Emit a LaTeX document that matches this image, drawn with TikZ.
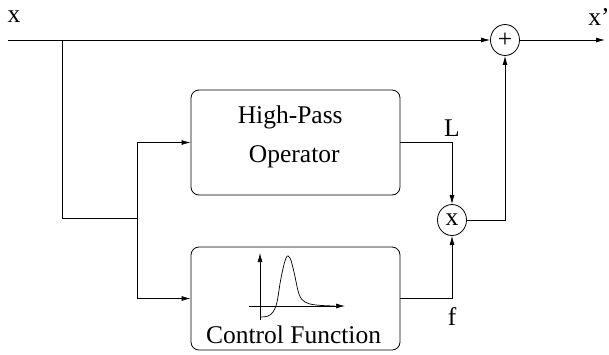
\documentclass[tikz,border=0pt]{standalone}
\usepackage{fontspec}
\setmainfont{Liberation Serif}
\usetikzlibrary{arrows.meta,shapes.geometric}
\begin{document}
\begin{tikzpicture}[x=1pt,y=-1pt,
  line width=0.8pt,
  every node/.style={font=\fontsize{25.5}{36}\selectfont, inner sep=0pt},
  blk/.style={draw, rounded corners=8pt, minimum width=209pt},
  op/.style={draw, ellipse, minimum width=29pt, minimum height=31pt},
  arr/.style={-{Latex[length=9pt,width=5pt]}}]
\useasboundingbox (0,0) rectangle (609,354);
% blocks
\node[blk, minimum height=105pt] (hp) at (295.5,142.5) {};
\node[anchor=base east] (hpt1) at (343,123) {High-Pass};
\node[anchor=base east] (hpt2) at (340,162) {Operator};
\node[blk, minimum height=103pt] (cf) at (295.5,298.5) {};
\node[anchor=base] (cft) at (293.5,343) {Control Function};
% operators
\node[op] (plus) at (505,40) {+};
\node[op] (mult) at (452,220) {x};
% coordinates
\coordinate (in) at (8,40);
\coordinate (out) at (605,40);
\coordinate (br) at (62,40);
\coordinate (brd) at (62,218);
\coordinate (sp) at (137,218);
\coordinate (spu) at (137,142.5);
\coordinate (spd) at (137,298.5);
% labels
\node (lx) at (14,17) {x};
\node (lxp) at (599,17) {x’};
\node (lL) at (452,128) {L};
\node (lf) at (452,317) {f};
% connectors
\draw[arr] (in) -- (plus);
\draw[arr] (plus) -- (out);
\draw (br) -- (brd) -- (sp);
\draw (spu) -- (spd);
\draw[arr] (spu) -- (hp.west);
\draw[arr] (spd) -- (cf.west);
\draw[arr] (hp.east) -| (mult.north);
\draw[arr] (cf.east) -| (mult.south);
\draw[arr] (mult.east) -| (plus.south);
% inner plot
\draw[arr, line width=0.7pt] (260,320) -- (260,253);
\draw[arr, line width=0.7pt] (249,306) -- (345,306);
\draw[line width=0.7pt] plot[smooth, tension=0.6] coordinates
 {(261,317) (268,316) (273,312) (277,302) (281,278) (286,258) (290,258) (294,272) (299,294) (305,302) (316,305) (335,306)};
\end{tikzpicture}
\end{document}
